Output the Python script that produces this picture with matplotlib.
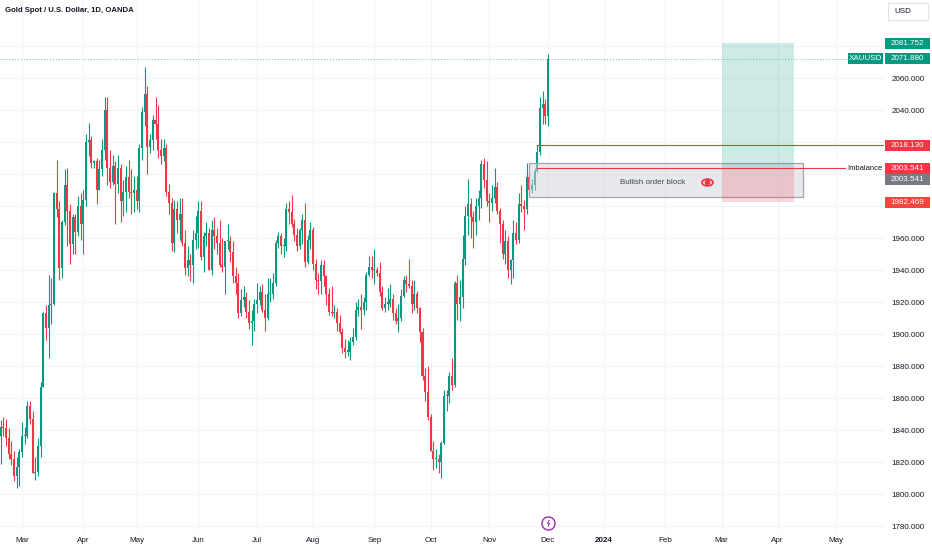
import numpy as np
import pandas as pd
import matplotlib
matplotlib.use('Agg')
import matplotlib.pyplot as plt
from matplotlib.patches import Rectangle
from matplotlib.path import Path
from matplotlib.transforms import blended_transform_factory

plt.rcParams['font.family'] = ['Liberation Sans', 'DejaVu Sans']

# daily XAUUSD candles, one value per weekday starting on first_day
first_day = '2023-02-16'
opens = [
    1836, 1836, 1842, 1841, 1835, 1825, 1822, 1811, 1817,
    1826, 1836, 1836, 1855, 1847, 1813, 1814, 1830, 1867, 1913, 1904, 1918, 1919, 1988, 1978, 1941, 1970, 1993, 1977, 1956, 1973, 1964, 1980,
    1969, 1984, 2020, 2021, 2007, 2008, 1990, 2003, 2015, 2040, 2004, 1995, 2005, 1994, 2004, 1983, 1989, 1998, 1989, 1988,
    1990, 1983, 2016, 2039, 2050, 2017, 2021, 2034, 2031, 2015, 2011, 2016, 1989, 1982, 1957, 1978, 1971, 1975, 1957, 1941, 1946, 1943, 1959,
    1963, 1977, 1948, 1961, 1963, 1940, 1965, 1961, 1957, 1943, 1942, 1958, 1958, 1951, 1936, 1932, 1913, 1921, 1923, 1914, 1907, 1908,
    1919, 1921, 1926, 1915, 1910, 1925, 1925, 1932, 1957, 1961, 1955, 1955, 1978, 1976, 1969, 1962, 1955, 1965, 1971, 1945, 1959,
    1965, 1944, 1934, 1933, 1943, 1936, 1925, 1914, 1913, 1914, 1907, 1901, 1891, 1889, 1889, 1895, 1898, 1915, 1917, 1915, 1920, 1937, 1942,
    1940, 1940, 1938, 1926, 1916, 1919, 1919, 1922, 1913, 1908, 1910, 1924, 1934, 1931, 1930, 1919, 1925, 1916, 1901, 1874, 1864,
    1848, 1827, 1822, 1822, 1820, 1832, 1861, 1861, 1874, 1868, 1932, 1919, 1923, 1947, 1974, 1981, 1973, 1970, 1980, 1985, 2006, 1996,
    1983, 1982, 1985, 1992, 1977, 1969, 1950, 1958, 1940, 1946, 1963, 1959, 1981, 1980, 1978, 1998, 1990, 1993, 2002, 2014, 2041, 2044,
    2036,
]
highs = [
    1845, 1846, 1848, 1847, 1841, 1833, 1827, 1823, 1828,
    1845, 1842, 1858, 1858, 1852, 1823, 1835, 1870, 1914, 1918, 1937, 1935, 1989, 2009, 1983, 1971, 2003, 2004, 1981, 1975, 1975, 1986, 1988,
    1990, 2025, 2032, 2024, 2009, 2010, 2009, 2022, 2048, 2048, 2015, 2012, 2008, 2012, 2006, 1996, 2005, 2009, 2003, 1999,
    1999, 2019, 2042, 2067, 2055, 2025, 2037, 2048, 2043, 2022, 2022, 2019, 1994, 1985, 1984, 1983, 1985, 1985, 1965, 1955, 1950, 1965, 1974,
    1983, 1983, 1964, 1970, 1966, 1971, 1973, 1966, 1971, 1960, 1958, 1969, 1961, 1958, 1942, 1938, 1928, 1930, 1926, 1921, 1915, 1922,
    1932, 1930, 1931, 1925, 1935, 1935, 1938, 1959, 1964, 1963, 1960, 1982, 1983, 1987, 1972, 1966, 1966, 1975, 1982, 1962, 1970,
    1967, 1947, 1938, 1946, 1946, 1937, 1929, 1930, 1918, 1916, 1912, 1904, 1897, 1896, 1898, 1904, 1920, 1922, 1925, 1923, 1939, 1949, 1949,
    1953, 1942, 1945, 1930, 1923, 1929, 1931, 1925, 1916, 1919, 1928, 1936, 1937, 1947, 1934, 1934, 1927, 1917, 1904, 1879, 1880,
    1850, 1833, 1828, 1825, 1833, 1865, 1865, 1876, 1885, 1933, 1937, 1934, 1962, 1980, 1997, 1985, 1977, 1985, 1990, 2009, 2010, 2008,
    1988, 1993, 2004, 1995, 1979, 1971, 1965, 1961, 1947, 1971, 1970, 1988, 1993, 1984, 2007, 2002, 1997, 2004, 2018, 2048, 2052, 2047,
    2075,
]
lows = [
    1829, 1819, 1836, 1830, 1822, 1818, 1808, 1804, 1805,
    1823, 1831, 1835, 1844, 1813, 1809, 1811, 1823, 1867, 1896, 1885, 1906, 1918, 1973, 1934, 1935, 1968, 1955, 1944, 1950, 1950, 1961, 1959,
    1950, 1980, 2011, 2004, 2004, 1981, 1990, 1999, 2009, 1993, 1991, 1993, 1969, 1988, 1970, 1974, 1976, 1985, 1975, 1976,
    1978, 1976, 2009, 2030, 2000, 2013, 2015, 2022, 2010, 2006, 2008, 1986, 1975, 1952, 1951, 1963, 1959, 1955, 1937, 1936, 1933, 1932, 1953,
    1954, 1946, 1939, 1955, 1940, 1937, 1953, 1950, 1942, 1939, 1925, 1953, 1945, 1932, 1925, 1910, 1911, 1917, 1910, 1903, 1893, 1902,
    1913, 1918, 1914, 1902, 1909, 1920, 1922, 1930, 1954, 1950, 1948, 1952, 1969, 1967, 1958, 1952, 1953, 1956, 1942, 1944, 1953,
    1940, 1928, 1925, 1925, 1930, 1918, 1912, 1911, 1910, 1902, 1900, 1888, 1885, 1886, 1884, 1893, 1896, 1911, 1903, 1912, 1915, 1936, 1935,
    1931, 1936, 1924, 1915, 1914, 1915, 1917, 1909, 1906, 1901, 1908, 1923, 1926, 1929, 1913, 1915, 1913, 1895, 1871, 1858, 1846,
    1827, 1815, 1816, 1813, 1810, 1831, 1852, 1857, 1865, 1867, 1909, 1908, 1916, 1943, 1962, 1960, 1954, 1962, 1971, 1979, 1991, 1980,
    1970, 1977, 1982, 1975, 1957, 1947, 1944, 1935, 1931, 1935, 1956, 1957, 1976, 1965, 1975, 1987, 1988, 1990, 2001, 2012, 2031, 2031,
    2030,
]
closes = [
    1836, 1842, 1841, 1835, 1825, 1822, 1811, 1817, 1826,
    1836, 1836, 1855, 1847, 1813, 1814, 1830, 1867, 1913, 1904, 1918, 1919, 1988, 1978, 1941, 1970, 1993, 1977, 1956, 1973, 1964, 1980, 1969,
    1984, 2020, 2021, 2007, 2008, 1990, 2003, 2015, 2040, 2004, 1995, 2005, 1994, 2004, 1983, 1989, 1998, 1989, 1988, 1990,
    1983, 2016, 2039, 2050, 2017, 2021, 2034, 2031, 2015, 2011, 2016, 1989, 1982, 1957, 1978, 1971, 1975, 1957, 1941, 1946, 1943, 1959, 1963,
    1977, 1948, 1961, 1963, 1940, 1965, 1961, 1957, 1943, 1942, 1958, 1958, 1951, 1936, 1932, 1913, 1921, 1923, 1914, 1907, 1908, 1919,
    1921, 1926, 1915, 1910, 1925, 1925, 1932, 1957, 1961, 1955, 1955, 1978, 1976, 1969, 1962, 1955, 1965, 1971, 1945, 1959, 1965,
    1944, 1934, 1933, 1943, 1936, 1925, 1914, 1913, 1914, 1907, 1901, 1891, 1889, 1889, 1895, 1898, 1915, 1917, 1915, 1920, 1937, 1942, 1940,
    1940, 1938, 1926, 1916, 1919, 1919, 1922, 1913, 1908, 1910, 1924, 1934, 1931, 1930, 1919, 1925, 1916, 1901, 1874, 1864, 1848,
    1827, 1822, 1822, 1820, 1832, 1861, 1861, 1874, 1868, 1932, 1919, 1923, 1947, 1974, 1981, 1973, 1970, 1980, 1985, 2006, 1996, 1983,
    1982, 1985, 1992, 1977, 1969, 1950, 1958, 1940, 1946, 1963, 1959, 1981, 1980, 1978, 1998, 1990, 1993, 2002, 2014, 2041, 2044, 2036,
    2071.88,
]

# drawing levels
last_price = 2071.880
target_price = 2081.752
entry_price = 2003.541
stop_price = 1982.469
level_price = 2018.130
ob_top = 2007.0
ob_bottom = 1985.6

UP = '#089981'
DOWN = '#f23645'
TXT = '#131722'

days = pd.bdate_range(first_day, '2024-06-28')


def bar_of(d):
    return days.get_loc(pd.Timestamp(d))


fig = plt.figure(figsize=(9.32, 5.5), dpi=100)
ax = fig.add_axes([0, 19 / 550, 884 / 932, 531 / 550])

# x: 2.67 px per bar, Mar 1 2023 centred at px 22
mar1 = bar_of('2023-03-01')
xmin = mar1 - 22 / 2.67
xmax = mar1 + 862 / 2.67
ymin, ymax = 1776.9, 2108.75
ax.set_xlim(xmin, xmax)
ax.set_ylim(ymin, ymax)
ppu = 531 / (ymax - ymin)  # px per price unit

o = np.array(opens, dtype=float)
h = np.array(highs, dtype=float)
l = np.array(lows, dtype=float)
c = np.array(closes, dtype=float)
idx = np.arange(len(c))
col = np.where(c >= o, UP, DOWN)

ax.vlines(idx, l, h, colors=col, lw=0.8, zorder=2)
ax.bar(idx, np.maximum(np.abs(c - o), 0.8), bottom=np.minimum(o, c),
       width=0.75, color=col, lw=0, zorder=3)

# last price dotted line
ax.axhline(last_price, color=UP, ls=(0, (1, 2)), lw=0.7, alpha=0.6, zorder=1)

# bullish order block
ob0 = bar_of('2023-11-22') - 0.1
ob1 = bar_of('2024-04-12') + 0.5
ax.add_patch(Rectangle((ob0, ob_bottom), ob1 - ob0, ob_top - ob_bottom,
                       fc='#d1d4dc80', ec='#a3a6af', lw=0.9, zorder=4))
ax.text(ob0 + (ob1 - ob0) * 0.4526, (ob_top + ob_bottom) / 2 - 1.5, 'Bullish order block',
        ha='center', va='center', fontsize=5.8, color='#434651', zorder=6)
eye_x = ob0 + (ob1 - ob0) * 0.65
eye_y = (ob_top + ob_bottom) / 2 - 1.5
ellipse = Path(Path.unit_circle().vertices * [1, 0.6], Path.unit_circle().codes)
ax.plot(eye_x, eye_y, marker=ellipse, ms=8, mfc='none', mec=DOWN, mew=1.3, zorder=7)
ax.plot(eye_x, eye_y, marker='o', ms=3, mfc=DOWN, mec=DOWN, zorder=7)

# long position tool
p0 = bar_of('2024-03-01')
p1 = bar_of('2024-04-09')
ax.add_patch(Rectangle((p0, entry_price), p1 - p0, target_price - entry_price,
                       fc=UP, alpha=0.2, lw=0, zorder=5))
ax.add_patch(Rectangle((p0, stop_price), p1 - p0, entry_price - stop_price,
                       fc=DOWN, alpha=0.2, lw=0, zorder=5))

# horizontal rays
ray0 = bar_of('2023-11-27')
ax.plot([ray0, xmax], [level_price, level_price], color=DOWN, lw=0.8, zorder=6)
imb_end = xmin + (xmax - xmin) * 845 / 884
ax.plot([ray0, imb_end], [entry_price, entry_price], color=DOWN, lw=0.8, zorder=6)

tr = blended_transform_factory(ax.transAxes, ax.transData)
ax.text(847 / 884, entry_price, 'Imbalance', transform=tr, ha='left', va='center',
        fontsize=5.5, color=TXT, clip_on=False, zorder=21)


def tag(y, label, color, x0=885, x1=930):
    hh = 11 / ppu
    a0, a1 = x0 / 884, x1 / 884
    ax.add_patch(Rectangle((a0, y - hh / 2), a1 - a0, hh, transform=tr, fc=color,
                           ec='none', clip_on=False, zorder=20))
    ax.text((a0 + a1) / 2, y, label, transform=tr, ha='center', va='center',
            fontsize=5.8, color='white', clip_on=False, zorder=21)


tag(target_price, f'{target_price:.3f}', UP)
tag(last_price, 'XAUUSD', UP, 848, 883)
tag(last_price, f'{last_price:.3f}', UP)
tag(level_price, f'{level_price:.3f}', DOWN)
tag(entry_price, f'{entry_price:.3f}', DOWN)
tag(entry_price - 11 / ppu, f'{entry_price:.3f}', '#787b86')
tag(stop_price, f'{stop_price:.3f}', '#f5453d')

# axes, ticks, grid (levels sitting under a price tag are not labelled)
yt = np.arange(1780, 2081, 20)
hidden = {2080, 2020, 2000, 1980}
ax.set_yticks(yt)
ax.set_yticklabels(['' if v in hidden else f'{v:.3f}' for v in yt])
ax.yaxis.tick_right()
ax.tick_params(axis='y', length=0, pad=5.5, labelsize=5.8, labelcolor=TXT)

month_starts = pd.date_range('2023-03-01', '2024-05-01', freq='MS')
xt, xl = [], []
for m in month_starts:
    first_bd = days[days >= m][0]
    xt.append(bar_of(first_bd))
    xl.append('2024' if m.month == 1 else m.strftime('%b'))
ax.set_xticks(xt)
ax.set_xticklabels(xl)
ax.tick_params(axis='x', length=0, pad=4, labelsize=5.8, labelcolor=TXT)
for t in ax.get_xticklabels():
    if t.get_text() == '2024':
        t.set_fontweight('bold')

ax.grid(True, color='#f3f4f7', lw=0.8)
ax.set_axisbelow(True)
for s in ax.spines.values():
    s.set_visible(False)

# event marker under the last bar
bolt = Path([(0.2, 1), (-0.4, -0.05), (0.05, -0.05), (-0.2, -1), (0.4, 0.1), (-0.05, 0.1), (0.2, 1)])
ev = blended_transform_factory(ax.transData, ax.transAxes)
ax.plot(len(c) - 1, 0.015, transform=ev, marker='o', ms=9.4, mfc='white', mec='#9c27b0',
        mew=1.0, clip_on=False, zorder=8)
ax.plot(len(c) - 1, 0.015, transform=ev, marker=bolt, ms=5, mfc='#9c27b0', mec='#9c27b0',
        mew=0.3, clip_on=False, zorder=9)

# title and currency box
fig.text(5 / 932, 1 - 11 / 550, 'Gold Spot / U.S. Dollar, 1D, OANDA', ha='left', va='center',
         fontsize=5.6, fontweight='bold', color=TXT)
fig.patches.append(Rectangle((888 / 932, 1 - 20 / 550), 40 / 932, 17 / 550, transform=fig.transFigure,
                             fc='white', ec='#e0e3eb', lw=0.8))
fig.text(894 / 932, 1 - 11.5 / 550, 'USD', ha='left', va='center', fontsize=5.8, color=TXT)

fig.savefig('out.png', dpi=100, facecolor='white')
